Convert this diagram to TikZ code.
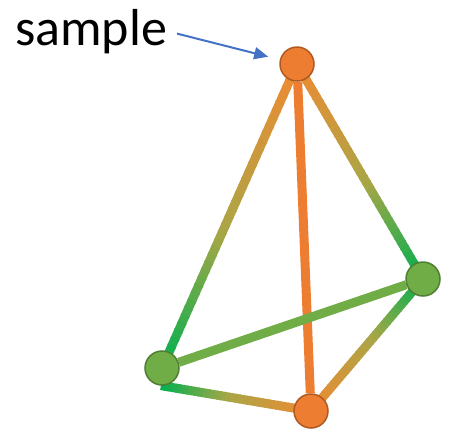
\documentclass[tikz,border=0pt]{standalone}
\usepackage{fontspec}
\setmainfont{Carlito}
\usetikzlibrary{arrows.meta,backgrounds,calc}
\definecolor{org}{HTML}{ED7D31}
\definecolor{orgl}{HTML}{F08A32}
\definecolor{orgd}{HTML}{AE5A21}
\definecolor{grn}{HTML}{70AD47}
\definecolor{grnd}{HTML}{507E32}
\definecolor{brg}{HTML}{00B050}
\definecolor{midc}{HTML}{AAA646}
\definecolor{blu}{HTML}{4472C4}
\tikzset{
 onode/.style={circle, fill=org, draw=orgd, line width=1.5pt, minimum size=34pt, inner sep=0pt},
 gnode/.style={circle, fill=grn, draw=grnd, line width=1.5pt, minimum size=34pt, inner sep=0pt},
 edge/.style={line width=9pt},
}
\newcommand\gradline[2]{%
 \foreach \i in {0,...,39}{%
   \pgfmathsetmacro\pa{\i/40}%
   \pgfmathsetmacro\pb{(\i+1.3)/40}%
   \pgfmathsetmacro\tt{(\i+0.5)/40}%
   \pgfmathtruncatemacro\half{\tt<0.55 ? 1 : 0}%
   \ifnum\half=1
     \pgfmathsetmacro\pc{100*\tt/0.55}%
     \colorlet{segc}{midc!\pc!orgl}%
   \else
     \pgfmathsetmacro\pc{100*(\tt-0.55)/0.45}%
     \colorlet{segc}{brg!\pc!midc}%
   \fi
   \draw[edge, color=segc] ($(#1)!\pa!(#2)$) -- ($(#1)!\pb!(#2)$);
 }}
\begin{document}
\begin{tikzpicture}[x=1pt,y=1pt]
\useasboundingbox (0,0) rectangle (449,-432);
\node[onode] (T) at (297,-64) {};
\node[gnode] (R) at (423,-279) {};
\node[gnode] (L) at (162,-368) {};
\node[onode] (B) at (311,-411) {};
\node[anchor=base west, inner sep=0pt, font=\fontsize{52}{60}\selectfont] (lbl) at (15,-45) {sample};
\begin{scope}[on background layer]
 \gradline{T}{L}
 \gradline{T}{R}
 \gradline{B}{L.south}
 \gradline{B}{R}
 \draw[edge, color=org] (T) -- (B);
 \draw[edge, color=grn] (L) -- (R);
\end{scope}
\draw[blu, line width=2pt, -{Triangle[length=14pt,width=12pt]}, shorten <=10pt, shorten >=12pt] (lbl.east) -- (T);
\end{tikzpicture}
\end{document}
